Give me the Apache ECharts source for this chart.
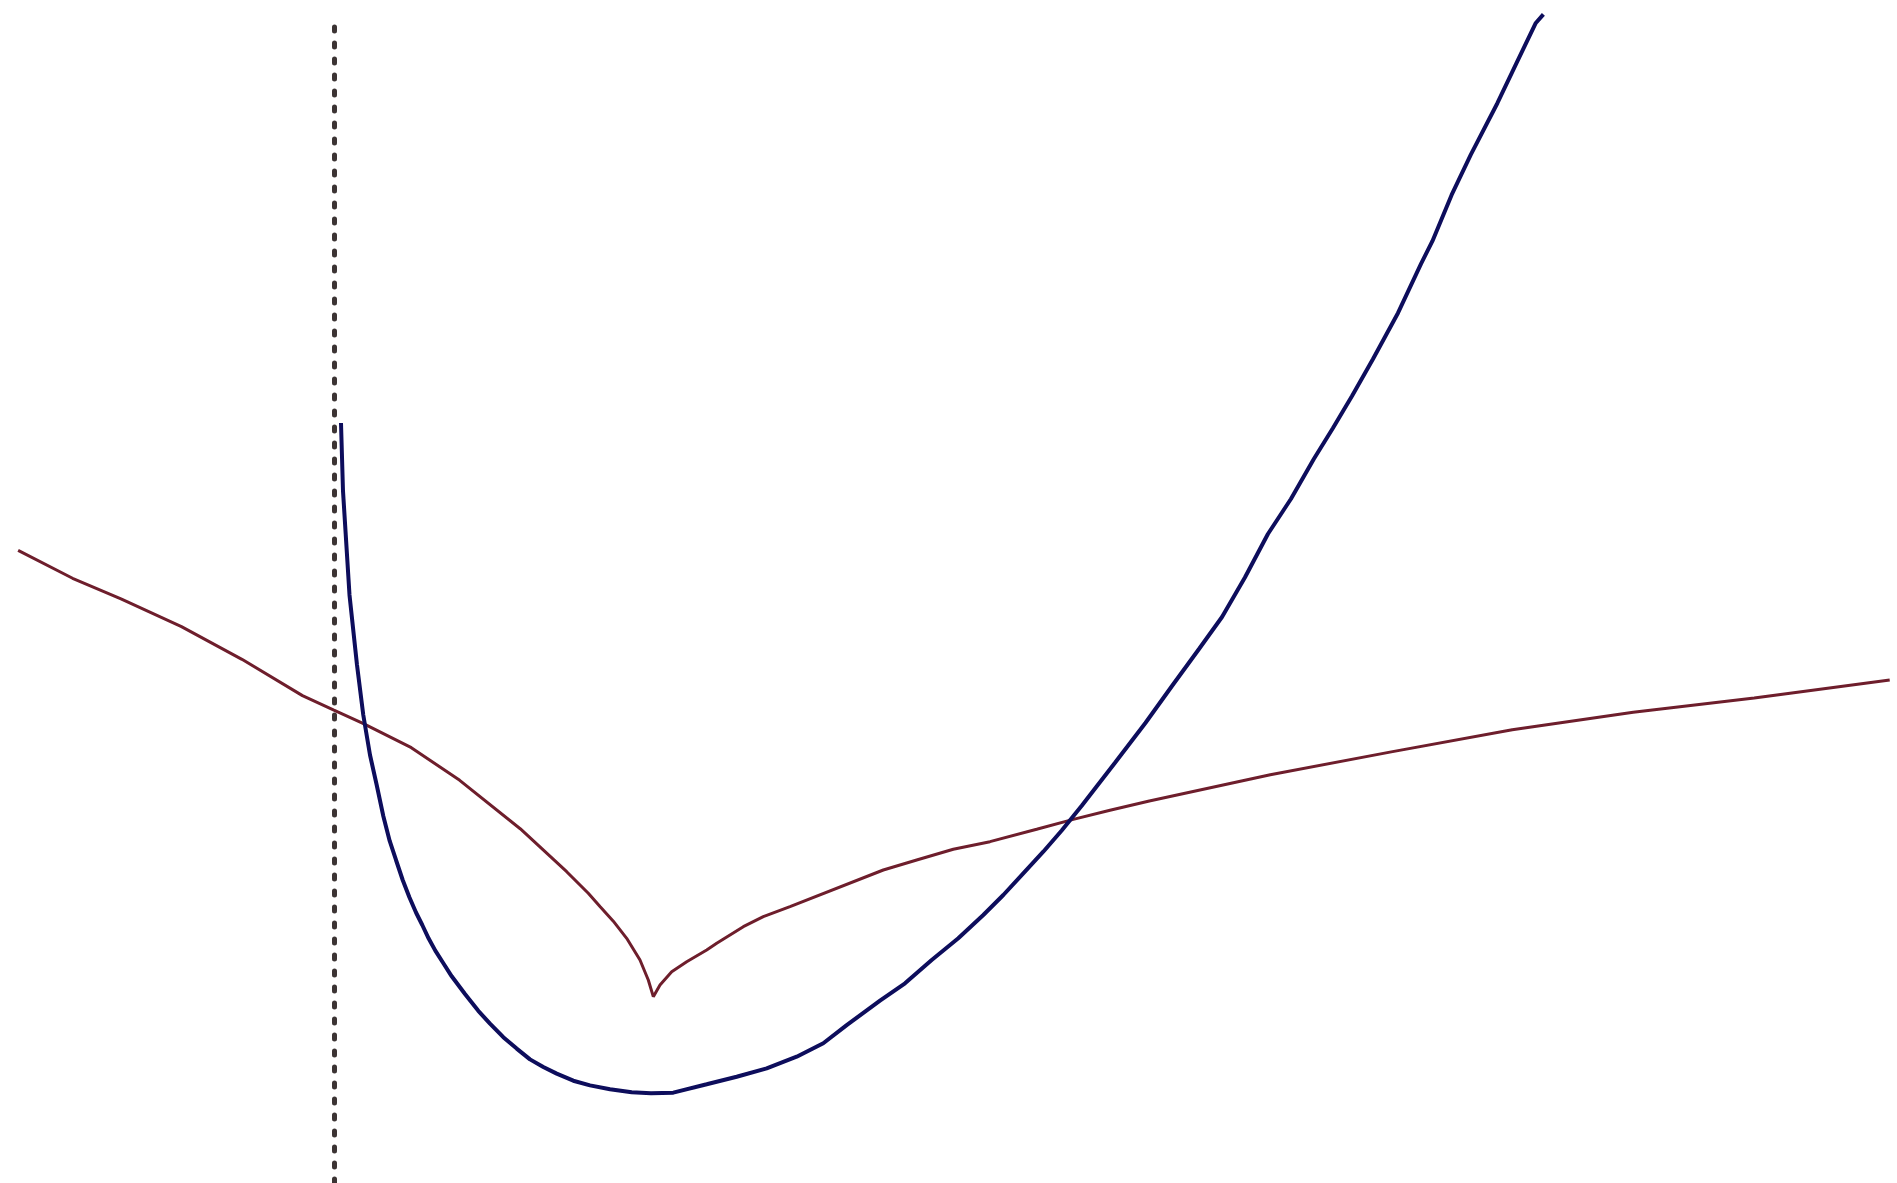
<!DOCTYPE html>
<html>
<head>
<meta charset="utf-8">
<script src="https://cdn.jsdelivr.net/npm/echarts@6/dist/echarts.min.js"></script>
<style>
body {
  margin: 0;
  padding: 0;
  background: #fff;
}

#chart {
  width: 1897px;
  height: 1183px;
}
</style>
</head>
<body>
<div id="chart"></div>
<script>
// blue curve (x, y in plot units)
const blueX = [0.0221, 0.0284, 0.0489, 0.0726, 0.0924, 0.1136, 0.1347, 0.1555, 0.1757, 0.1956, 0.2167,
  0.2375, 0.2587, 0.2785, 0.2987, 0.3196, 0.347, 0.3713, 0.4132, 0.4552, 0.4921, 0.5341, 0.5763,
  0.6183, 0.6603, 0.7025, 0.7549, 0.8076, 0.8707, 0.9391, 1.0, 1.0703, 1.1757, 1.2703, 1.365,
  1.4596, 1.5435, 1.6174, 1.7224, 1.8013, 1.8855, 1.9694, 2.0483, 2.1114, 2.1744, 2.2375, 2.2956,
  2.3587, 2.4631, 2.5596, 2.6435, 2.7287, 2.8013, 2.8735, 2.9461, 3.0186, 3.0909, 3.1514, 3.2114,
  3.2776, 3.3565, 3.429, 3.4653, 3.5256, 3.5858, 3.6703, 3.7306, 3.7912, 3.8151]
const blueY = [2.3975, 2.183, 1.8549, 1.6341, 1.4763, 1.3502, 1.2555, 1.1577, 1.0789, 1.0189, 0.9558,
  0.9022, 0.8533, 0.8139, 0.771, 0.733, 0.69, 0.652, 0.596, 0.543, 0.503, 0.46, 0.424,
  0.39, 0.366, 0.345, 0.3227, 0.308, 0.2955, 0.2861, 0.283, 0.2849, 0.3114, 0.3353, 0.3618,
  0.3984, 0.4407, 0.498, 0.575, 0.63, 0.7035, 0.7719, 0.8454, 0.9085, 0.977, 1.045, 1.112,
  1.19, 1.3249, 1.4511, 1.5678, 1.6845, 1.7855, 1.91, 2.0473, 2.1577, 2.2839, 2.3817, 2.4826,
  2.5994, 2.7445, 2.8991, 2.9716, 3.1167, 3.2429, 3.4069, 3.5331, 3.6593, 3.6864]

// red curve with the cusp
const redX = [-0.9964, -0.8247, -0.672, -0.4812, -0.2904, -0.0995, -0.0003, 0.0913, 0.244, 0.3966,
  0.5874, 0.7341, 0.8022, 0.8391, 0.8811, 0.9233, 0.9653, 0.9915, 1.0073, 1.0284, 1.0653, 1.1126,
  1.1757, 1.2073, 1.2912, 1.3543, 1.4385, 1.7328, 1.8382, 1.9536, 2.0694, 2.2167, 2.3322, 2.4479,
  2.572, 2.9536, 3.3352, 3.7169, 4.0985, 4.4802, 4.9076]
const redY = [1.9954, 1.9076, 1.8427, 1.755, 1.6519, 1.5374, 1.4916, 1.4497, 1.3733, 1.2703,
  1.1176, 0.982, 0.9139, 0.872, 0.826, 0.7719, 0.7035, 0.6404, 0.5877, 0.6246, 0.6666, 0.6981,
  0.735, 0.7562, 0.8085, 0.8401, 0.8716, 0.9874, 1.0189, 1.0527, 1.0767, 1.1158, 1.147, 1.176,
  1.205, 1.288, 1.36, 1.43, 1.485, 1.53, 1.587]

const chart = echarts.init(document.getElementById('chart'))
chart.setOption({
  animation: false,
  backgroundColor: '#ffffff',
  grid: {
    left: 0,
    right: 0,
    top: 24,
    bottom: 0
  },
  xAxis: {
    type: 'value',
    min: -1.0536,
    max: 4.9306,
    show: false
  },
  yAxis: {
    type: 'value',
    min: 0,
    max: 3.656,
    axisLine: {
      show: true,
      onZero: true,
      lineStyle: {
        color: '#3c3434',
        width: 5,
        type: [4, 12]
      }
    },
    axisTick: { show: false },
    axisLabel: { show: false },
    splitLine: { show: false }
  },
  series: [
    {
      type: 'line',
      data: redX.map((x, i) => [x, redY[i]]),
      showSymbol: false,
      clip: false,
      lineStyle: {
        color: '#6e1e2c',
        width: 3
      }
    },
    {
      type: 'line',
      data: blueX.map((x, i) => [x, blueY[i]]),
      showSymbol: false,
      clip: false,
      lineStyle: {
        color: '#0d0d5c',
        width: 4
      }
    }
  ]
})
</script>
</body>
</html>
